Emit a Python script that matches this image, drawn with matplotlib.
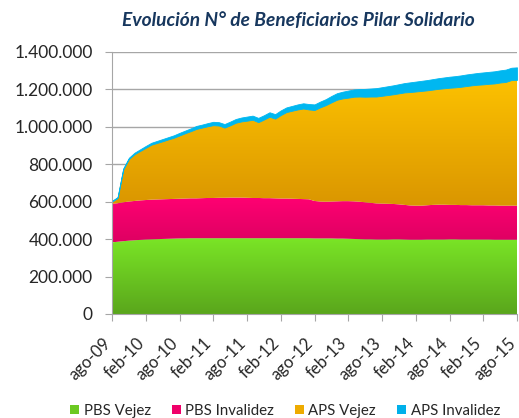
import numpy as np
import matplotlib
matplotlib.use("Agg")
import matplotlib.pyplot as plt
import matplotlib.transforms as mtransforms
from matplotlib.colors import LinearSegmentedColormap
from matplotlib.patches import Patch

plt.rcParams['font.family'] = ['Lato', 'DejaVu Sans']

# monthly data ago-09 .. ago-15 (thousands of beneficiaries)
n_months = 73
tick_labels = ["ago-09", "feb-10", "ago-10", "feb-11", "ago-11", "feb-12", "ago-12",
               "feb-13", "ago-13", "feb-14", "ago-14", "feb-15", "ago-15"]

pbs_vejez = [383, 386, 389, 392, 394, 396, 398, 399, 400, 401, 402, 403,
             404, 404, 405, 405, 405, 405, 405, 405, 405, 405, 405, 405,
             405, 405, 405, 405, 405, 405, 405, 405, 405, 405, 405, 405,
             404, 404, 404, 404, 403, 403, 402, 401, 400, 399, 399, 398,
             398, 398, 399, 399, 398, 397, 397, 397, 398, 398, 398, 398,
             399, 399, 398, 398, 398, 398, 398, 398, 397, 397, 397, 397, 397]

pbs_invalidez = [205, 206, 208, 209, 210, 211, 211, 212, 212, 212, 212, 212,
                 212, 213, 213, 213, 214, 215, 215, 216, 216, 217, 217, 217,
                 216, 215, 215, 214, 214, 213, 212, 212, 211, 210, 209, 208,
                 200, 197, 196, 197, 199, 200, 201, 201, 200, 198, 195, 193,
                 192, 191, 189, 187, 185, 183, 182, 182, 183, 185, 186, 186,
                 184, 184, 184, 184, 183, 183, 183, 182, 183, 182, 182, 182, 182]

aps_vejez = [13, 28, 175, 227, 250, 264, 279, 294, 302, 310, 319, 327,
             338, 349, 359, 371, 377, 383, 389, 386, 375, 386, 400, 407,
             412, 418, 405, 420, 435, 426, 446, 462, 470, 478, 484, 480,
             486, 503, 516, 530, 543, 549, 553, 559, 562, 564, 568, 571,
             576, 581, 586, 593, 601, 606, 610, 613, 614, 616, 619, 622,
             626, 628, 632, 636, 641, 644, 646, 650, 652, 658, 661, 671, 672]

aps_invalidez = [4, 5, 6, 7, 8, 9, 10, 10, 11, 12, 12, 13,
                 14, 14, 15, 16, 16, 17, 18, 18, 19, 20, 20, 21,
                 22, 22, 23, 23, 24, 24, 25, 25, 26, 27, 28, 29,
                 30, 31, 32, 34, 35, 36, 38, 39, 40, 42, 43, 45,
                 46, 47, 48, 49, 50, 52, 53, 54, 55, 56, 57, 58,
                 59, 60, 61, 62, 62, 63, 64, 64, 65, 65, 66, 66, 67]

series_names = ["PBS Vejez", "PBS Invalidez", "APS Vejez", "APS Invalidez"]

fig = plt.figure(figsize=(5.19, 4.18), dpi=100)
ax = fig.add_axes([112/519, 1-314/418, (517-112)/519, (314-52)/418])

x = np.arange(n_months)
s1 = np.array(pbs_vejez) * 1000.0
s2 = np.array(pbs_invalidez) * 1000.0
s3 = np.array(aps_vejez) * 1000.0
s4 = np.array(aps_invalidez) * 1000.0
b0 = np.zeros(n_months)
b1 = s1
b2 = b1 + s2
b3 = b2 + s3
b4 = b3 + s4


def grad_fill(lo, hi, c_top, c_bot, z):
    poly = ax.fill_between(x, lo, hi, facecolor='none', edgecolor='none', lw=0, zorder=z)
    path = poly.get_paths()[0]
    cmap = LinearSegmentedColormap.from_list('g', [c_bot, c_top])
    grad = np.linspace(0, 1, 256).reshape(-1, 1)
    im = ax.imshow(grad, extent=[x[0], x[-1], lo.min(), hi.max()], origin='lower',
                   aspect='auto', cmap=cmap, zorder=z, interpolation='bilinear')
    im.set_clip_path(path, transform=ax.transData)


ax.yaxis.grid(True, color='#a6a6a6', lw=1)
ax.set_axisbelow(True)

grad_fill(b0, b1, '#7ae526', '#5aa61c', 2)
grad_fill(b1, b2, '#ff0072', '#de0062', 2)
grad_fill(b2, b3, '#fcc100', '#da9600', 2)
ax.fill_between(x, b3, b4, facecolor='#00b7f0', edgecolor='#00b7f0', lw=0.6, zorder=2)

ax.set_xlim(0, n_months - 1)
ax.set_ylim(0, 1400000)
ax.set_yticks(np.arange(0, 1400001, 200000))
ax.set_yticklabels(['0' if v == 0 else f"{v:,}".replace(',', '.') for v in range(0, 1400001, 200000)])
ax.set_xticks(np.arange(0, n_months, 6))
ax.set_xticklabels(tick_labels, rotation=45, ha='right', va='center', rotation_mode='anchor')

for sp in ['top', 'right']:
    ax.spines[sp].set_visible(False)
for sp in ['left', 'bottom']:
    ax.spines[sp].set_color('#a6a6a6')
    ax.spines[sp].set_zorder(3)
ax.tick_params(axis='both', colors='#a6a6a6', labelcolor='#262626', length=5)
ax.tick_params(axis='y', labelsize=12.5, pad=9)
ax.tick_params(axis='x', labelsize=12, pad=14)

offset = mtransforms.ScaledTranslation(-4/100, 0, fig.dpi_scale_trans)
for lab in ax.get_xticklabels():
    lab.set_transform(lab.get_transform() + offset)

fig.text(298/519, 1-21/418, "Evolución N° de Beneficiarios Pilar Solidario",
         ha='center', va='center', fontsize=13.8, fontweight='bold', fontstyle='italic',
         color='#17375e')

handles = [Patch(facecolor=c, edgecolor='none') for c in ['#6cc922', '#f0006a', '#eeab00', '#00b0ea']]
fig.legend(handles, series_names, loc='center', bbox_to_anchor=(285/519, 1-411/418),
           ncol=4, frameon=False, fontsize=10.8, handlelength=0.6, handleheight=0.6,
           handletextpad=0.3, columnspacing=1.4, labelcolor='#262626', borderpad=0.2)

fig.savefig('out.png', dpi=100)
